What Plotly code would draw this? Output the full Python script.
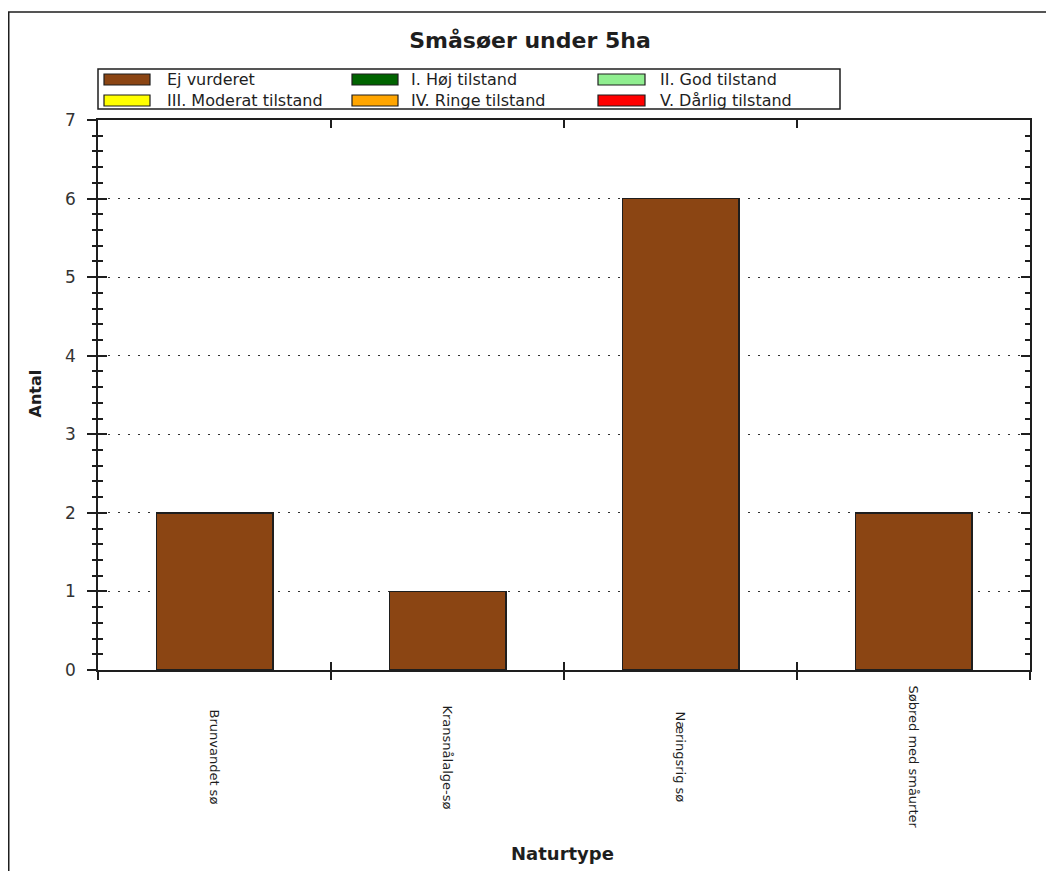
import plotly.graph_objects as go

# ---------------- data ----------------
categories = ["Brunvandet sø", "Kransnålalge-sø", "Næringsrig sø", "Søbred med småurter"]
series_names = ["Ej vurderet", "I. Høj tilstand", "II. God tilstand",
                "III. Moderat tilstand", "IV. Ringe tilstand", "V. Dårlig tilstand"]
series_colors = ["#8B4513", "#006400", "#90EE90", "#FFFF00", "#FFA500", "#FF0000"]
ej_vurderet = [2, 1, 6, 2]
hoej = [0, 0, 0, 0]
god = [0, 0, 0, 0]
moderat = [0, 0, 0, 0]
ringe = [0, 0, 0, 0]
daarlig = [0, 0, 0, 0]
series_values = [ej_vurderet, hoej, god, moderat, ringe, daarlig]
y_ticks = [0, 1, 2, 3, 4, 5, 6, 7]

title_text = "Småsøer under 5ha"
x_title = "Naturtype"
y_title = "Antal"

# ---------------- layout geometry (page pixels) ----------------
W, H = 1046, 871
L, R, T, B = 98, 1030, 120, 670   # plot area edges in px
PW, PH = R - L, B - T


def px(x):
    return (x - L) / PW


def py(y):
    return (B - y) / PH


FONT = "DejaVu Sans"
INK = "#1e1e1e"

fig = go.Figure()

for name, color, vals in zip(series_names, series_colors, series_values):
    fig.add_trace(go.Bar(
        x=categories, y=vals, name=name, width=0.5,
        marker=dict(color=color, line=dict(color=INK, width=1.5 if any(vals) else 0)),
        showlegend=False,
    ))

# invisible trace for overlay axes (inside ticks)
fig.add_trace(go.Scatter(x=[0], y=[0], xaxis="x2", yaxis="y2", mode="markers",
                         marker=dict(opacity=0), hoverinfo="skip", showlegend=False))

# x tick labels, centred vertically below the axis
for c in categories:
    fig.add_annotation(x=c, xref="x", y=py(757), yref="paper", text=c,
                       textangle=90, showarrow=False,
                       font=dict(family=FONT, size=13, color=INK),
                       xanchor="center", yanchor="middle")

# axis titles
fig.add_annotation(x=px(562), y=py(866), xref="paper", yref="paper", text=f"<b>{x_title}</b>",
                   showarrow=False, font=dict(family=FONT, size=18, color=INK))
fig.add_annotation(x=px(23), y=py(394), xref="paper", yref="paper", text=f"<b>{y_title}</b>",
                   textangle=-90, showarrow=False, font=dict(family=FONT, size=16, color=INK))

# ---------------- manual legend ----------------
legend_cols_px = [(104, 150, 165), (352, 398, 409), (598, 645, 658)]
legend_rows_px = [(74, 85), (95, 106)]
fig.add_shape(type="rect", xref="paper", yref="paper",
              x0=px(98), x1=px(840), y0=py(109), y1=py(69),
              line=dict(color=INK, width=1.5), fillcolor="white")
for i, (name, color) in enumerate(zip(series_names, series_colors)):
    r, c = divmod(i, 3)
    sx0, sx1, tx = legend_cols_px[c]
    sy0, sy1 = legend_rows_px[r]
    fig.add_shape(type="rect", xref="paper", yref="paper",
                  x0=px(sx0), x1=px(sx1), y0=py(sy1), y1=py(sy0),
                  line=dict(color=INK, width=1.2), fillcolor=color)
    fig.add_annotation(x=px(tx), y=py((sy0 + sy1) / 2), xref="paper", yref="paper",
                       text=name, showarrow=False, xanchor="left", yanchor="middle",
                       font=dict(family=FONT, size=16, color=INK))

# outer frame
fig.add_shape(type="rect", xref="paper", yref="paper",
              x0=px(8.75), x1=px(1100), y0=py(950), y1=py(12),
              line=dict(color=INK, width=1.5))

fig.update_layout(
    width=W, height=H,
    margin=dict(l=L, r=W - R, t=T, b=H - B, autoexpand=False),
    paper_bgcolor="white", plot_bgcolor="white",
    barmode="stack",
    title=dict(text=f"<b>{title_text}</b>", x=px(530), xref="paper", xanchor="center",
               y=1 - 40 / H, yanchor="middle",
               font=dict(family=FONT, size=22, color=INK)),
    xaxis=dict(type="category", categoryorder="array", categoryarray=categories,
               range=[-0.5, 3.5], tickson="boundaries", ticks="outside", ticklen=8,
               tickwidth=1.5, tickcolor=INK, showticklabels=False,
               showline=True, linecolor=INK, linewidth=1.5, mirror=True,
               showgrid=False, zeroline=False),
    xaxis2=dict(overlaying="x", range=[-0.5, 3.5], tickvals=[-0.5, 0.5, 1.5, 2.5, 3.5],
                ticks="inside", ticklen=8, tickwidth=1.5, tickcolor=INK,
                showticklabels=False, mirror="allticks", showline=False,
                showgrid=False, zeroline=False, side="bottom"),
    yaxis=dict(range=[0, 7], tickvals=y_ticks, ticks="outside", ticklen=9,
               tickwidth=1.5, tickcolor=INK, ticklabelstandoff=8,
               tickfont=dict(family=FONT, size=17, color="#333"),
               minor=dict(dtick=0.2, ticks="outside", ticklen=4, tickwidth=1.5,
                          tickcolor=INK, showgrid=False),
               showline=True, linecolor=INK, linewidth=1.5, mirror=True,
               showgrid=True, gridcolor="#333", gridwidth=1, griddash="2px,8px",
               zeroline=False),
    yaxis2=dict(overlaying="y", range=[0, 7], tickvals=y_ticks, ticks="inside", ticklen=9,
                tickwidth=1.5, tickcolor=INK, showticklabels=False, mirror="allticks",
                minor=dict(dtick=0.2, ticks="inside", ticklen=5, tickwidth=1.5,
                           tickcolor=INK, showgrid=False),
                showline=False, showgrid=False, zeroline=False, side="left"),
)

fig.write_html(
    "out.html",
    config={"displayModeBar": False},
    post_script="document.body.style.margin='0';document.body.style.overflow='hidden';",
)
